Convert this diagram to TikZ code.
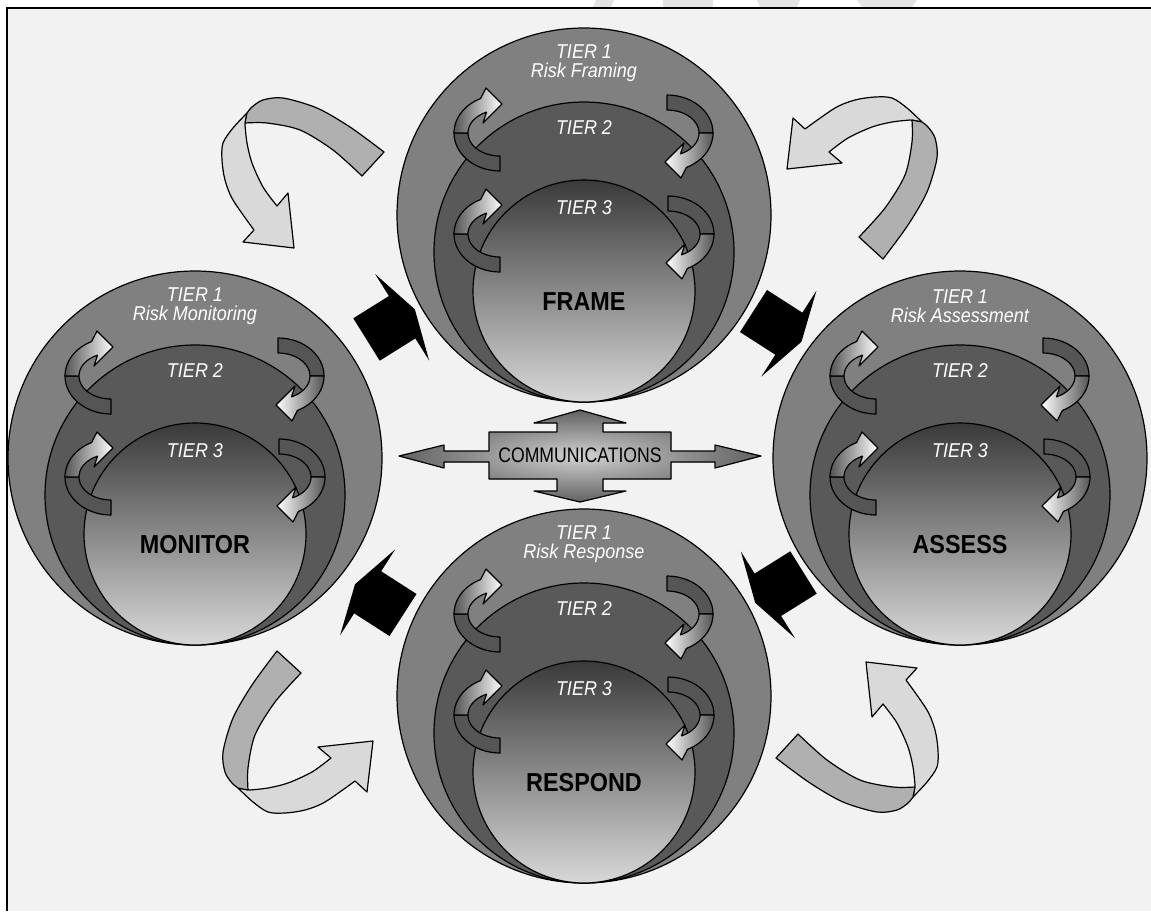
\documentclass[tikz,border=0pt]{standalone}
\usepackage{fontspec}
\setmainfont{Liberation Sans}
\newfontfamily\tierfont[FakeStretch=0.9]{Liberation Sans}
\newfontfamily\commfont[FakeStretch=0.84]{Liberation Sans}
\usetikzlibrary{calc}
\definecolor{bgc}{HTML}{F2F2F2}
\definecolor{wmc}{HTML}{E3E3E3}
\definecolor{outc}{HTML}{808080}
\definecolor{t2c}{HTML}{595959}
\definecolor{t3top}{HTML}{3A3A3A}
\definecolor{t3bot}{HTML}{D8D8D8}
\definecolor{bigdc}{HTML}{B0B0B0}
\definecolor{biglc}{HTML}{D9D9D9}
\definecolor{curldc}{HTML}{555555}
\definecolor{curlgc}{HTML}{555555}
\tikzset{
  ol/.style={draw=black,line width=1.2pt,line join=round},
  outerc/.style={circle,ol,fill=outc,minimum size=374,inner sep=0},
  tiertwo/.style={circle,ol,fill=t2c,minimum size=300,inner sep=0},
  tierthree/.style={circle,ol,top color=t3top,bottom color=t3bot,minimum size=222,inner sep=0},
  tiertext/.style={text=white,font=\tierfont\itshape\fontsize{20}{19}\selectfont,align=center,inner sep=0},
  labeltext/.style={text=black,font=\tierfont\bfseries\fontsize{26}{28}\selectfont,inner sep=0},
  curldark/.style={ol,fill=curldc},
  curlline/.style={ol},
  bigd/.style={ol,fill=bigdc},
  bigl/.style={ol,fill=biglc},
  blk/.style={fill=black},
  comm/.style={ol,shading=radial,inner color=black!18,outer color=black!62},
}
% small curled arrow, local origin at its centre
\newcommand\curlshape[2]{%
  \filldraw[curldark] plot[domain=90:180,samples=16] ({46*cos(\x)},{38*sin(\x)}) -- plot[domain=180:90,samples=16] ({32*cos(\x)},{23*sin(\x)}) -- cycle;
  \shadedraw[curlline,left color=#1,right color=#2] plot[domain=180:245,samples=16] ({46*cos(\x)},{38*sin(\x)}) -- (-14,-45) -- (2,-29) -- (-17,-10) -- plot[domain=245:180,samples=16] ({32*cos(\x)},{23*sin(\x)}) -- cycle;
}
\newcommand\riskcircle[5]{%
  \node[outerc] (#1) at (#2,#3) {};
  \node[tiertwo] (#1-2) at ($(#1)+(0,37)$) {};
  \node[tierthree] (#1-3) at ($(#1)+(0,76)$) {};
  \begin{scope}[shift={($(#1)+(-84,-82)$)}]\curlshape{curlgc}{white}\end{scope}
  \begin{scope}[shift={($(#1)+(83,-82)$)},rotate=180]\curlshape{white}{curlgc}\end{scope}
  \begin{scope}[shift={($(#1)+(-84,19)$)}]\curlshape{curlgc}{white}\end{scope}
  \begin{scope}[shift={($(#1)+(84,19)$)},rotate=180]\curlshape{white}{curlgc}\end{scope}
  \node[tiertext] (#1-t1) at ($(#1)+(0,-151.5)$) {TIER 1\\#4};
  \node[tiertext] (#1-t2) at ($(#1)+(0,-87)$) {TIER 2};
  \node[tiertext] (#1-t3) at ($(#1)+(0,-7)$) {TIER 3};
  \node[labeltext] (#1-lab) at ($(#1)+(0,87)$) {#5};
}
\newcommand\bigcurve{%
  \filldraw[bigl] plot[smooth] coordinates {(247,113) (233,128) (223,143) (222,160) (225,180) (233,200) (254,230)} -- (243,242) -- (294,248) -- (288,193) -- plot[smooth] coordinates {(277,206) (263,187) (252,163) (247,143) (245,125)} -- cycle;
  \filldraw[bigd] plot[smooth] coordinates {(384,152) (350,127) (317,108) (283,98) (263,100) (252,107) (247,113)} -- plot[smooth] coordinates {(245,123) (267,123) (300,130) (333,150) (362,176)} -- cycle;
}
\newcommand\blkarrow[3]{%
  \begin{scope}[shift={(#1,#2)},rotate=#3]
    \fill[blk] (0,-25) -- (42,-25) -- (42,-51) -- (57,0) -- (42,51) -- (42,25) -- (0,25) -- cycle;
  \end{scope}
}
\begin{document}
\begin{tikzpicture}[x=1pt,y=-1pt]
\useasboundingbox (0,0) rectangle (1151,911);
\fill[white] (0,0) rectangle (1151,911);
% watermark remnants in the top strip
\fill[wmc] (596,0) -- (614,0) -- (611,7) -- (593,7) -- cycle;
\fill[wmc] (663,0) -- (713,0) -- (713,7) -- (663,7) -- cycle;
\fill[wmc] (757,0) -- (800,0) -- (797,7) -- (760,7) -- cycle;
\fill[wmc] (857,0) -- (917,0) -- (912,7) -- (862,7) -- cycle;
\fill[bgc] (7,8) rectangle (1151,911);
\draw[line width=1.6pt] (7,911) -- (7,8) -- (1151,8);
% outer curved arrows
\bigcurve
\begin{scope}[rotate around={90:(580,455)}]\bigcurve\end{scope}
\begin{scope}[rotate around={180:(580,455)}]\bigcurve\end{scope}
\begin{scope}[rotate around={270:(580,455)}]\bigcurve\end{scope}
% black process arrows
\blkarrow{366.5}{339.5}{32}
\blkarrow{753.5}{311}{-32.7}
\blkarrow{803.5}{572.5}{212}
\blkarrow{403}{615}{147.3}
% circles
\riskcircle{frame}{584}{215}{Risk Framing}{FRAME}
\riskcircle{monitor}{195}{458}{Risk Monitoring}{MONITOR}
\riskcircle{assess}{960}{458}{Risk Assessment}{ASSESS}
\riskcircle{respond}{584}{696}{Risk Response}{RESPOND}
% communications
\filldraw[comm] (399,456) -- (444,445) -- (444,451) -- (489,451) -- (489,432) -- (557,432) -- (557,423) -- (534,423) -- (580,410) -- (626,423) -- (603,423) -- (603,432) -- (671,432) -- (671,451) -- (715,451) -- (715,445) -- (761,456) -- (715,468) -- (715,462) -- (671,462) -- (671,479) -- (603,479) -- (603,491) -- (626,491) -- (580,502) -- (534,491) -- (557,491) -- (557,479) -- (489,479) -- (489,462) -- (444,462) -- (444,468) -- cycle;
\node[font=\commfont\fontsize{21}{21}\selectfont,inner sep=0] (comms) at (580,455) {COMMUNICATIONS};
\end{tikzpicture}
\end{document}
